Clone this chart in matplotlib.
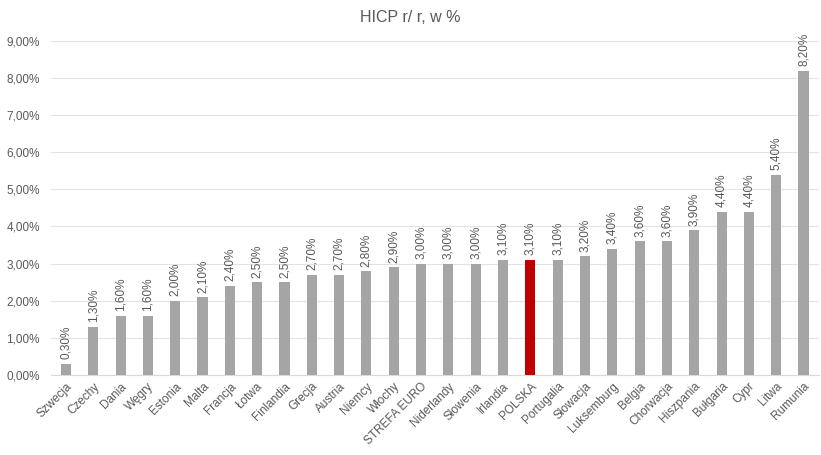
import numpy as np
import matplotlib.pyplot as plt
from matplotlib.ticker import FuncFormatter

plt.rcParams['font.family'] = ['Liberation Sans', 'DejaVu Sans']

countries = ["Szwecja", "Czechy", "Dania", "Węgry", "Estonia", "Malta", "Francja",
             "Łotwa", "Finlandia", "Grecja", "Austria", "Niemcy", "Włochy",
             "STREFA EURO", "Niderlandy", "Słowenia", "Irlandia", "POLSKA",
             "Portugalia", "Słowacja", "Luksemburg", "Belgia", "Chorwacja",
             "Hiszpania", "Bułgaria", "Cypr", "Litwa", "Rumunia"]
hicp = [0.3, 1.3, 1.6, 1.6, 2.0, 2.1, 2.4, 2.5, 2.5, 2.7, 2.7, 2.8, 2.9, 3.0,
        3.0, 3.0, 3.1, 3.1, 3.1, 3.2, 3.4, 3.6, 3.6, 3.9, 4.4, 4.4, 5.4, 8.2]
highlight = "POLSKA"

txt = "#595959"
colors = ["#C00000" if c == highlight else "#A5A5A5" for c in countries]

fig = plt.figure(figsize=(8.21, 4.55), dpi=100)
ax = fig.add_axes([0.062, 0.176, 0.935, 0.734])

x = np.arange(len(countries))
ax.bar(x, hicp, width=0.37, color=colors, zorder=3)

for xi, v in zip(x, hicp):
    ax.text(xi, v + 0.12, f"{v:.2f}%".replace(".", ","), rotation=90,
            ha="center", va="bottom", fontsize=8.5, color=txt)

ax.set_xlim(-0.55, len(countries) - 0.45)
ax.set_ylim(0, 9)
ax.set_yticks(np.arange(0, 10, 1))
ax.yaxis.set_major_formatter(FuncFormatter(lambda v, p: f"{v:.2f}%".replace(".", ",")))
ax.grid(axis="y", color="#E3E3E3", linewidth=0.8, zorder=0)

ax.set_xticks(x)
ax.set_xticklabels(countries, rotation=45, ha="right", rotation_mode="anchor",
                   fontsize=8.5, color=txt)
ax.tick_params(axis="y", labelsize=8.5, colors=txt, length=0, pad=8)
ax.tick_params(axis="x", length=0, pad=4)

for s in ["top", "right", "left"]:
    ax.spines[s].set_visible(False)
ax.spines["bottom"].set_color("#D9D9D9")

fig.text(0.5, 0.962, "HICP r/ r, w %", ha="center", va="center",
         fontsize=11.5, color=txt)

fig.savefig("out.png", dpi=100)
